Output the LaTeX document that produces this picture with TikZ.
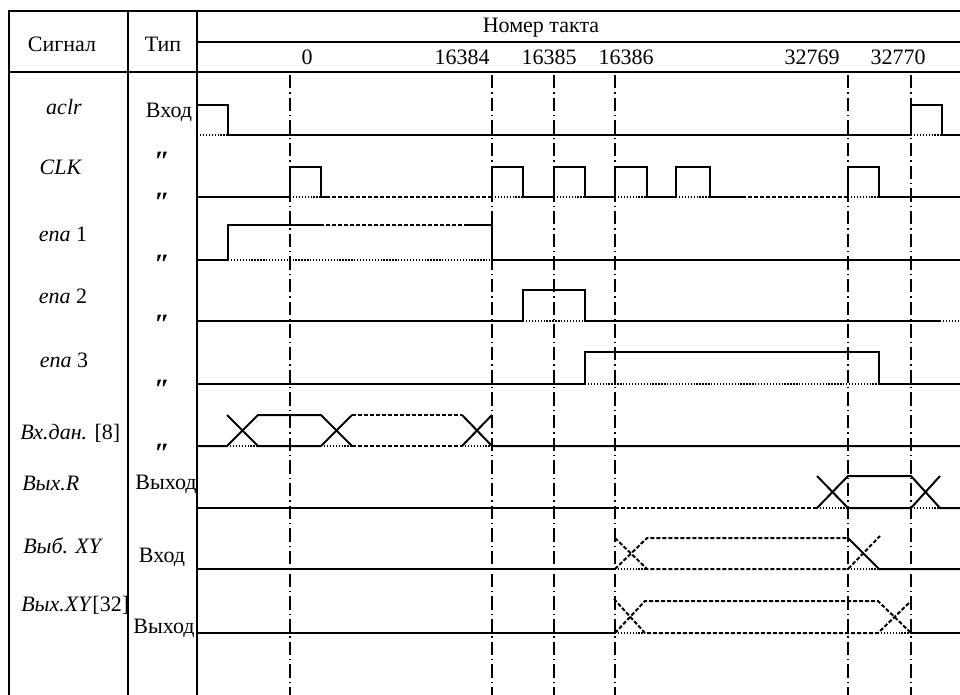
\documentclass[tikz,border=0pt]{standalone}
\usepackage{fontspec}
\setmainfont{Liberation Serif}
\usepackage{tikz}
\usetikzlibrary{calc}

\tikzset{
  frame/.style={line width=0.8pt},
  wave/.style={line width=1.5pt},
  lowdots/.style={line width=0.8pt, dash pattern=on 1pt off 1.2pt},
  busdash/.style={line width=1.5pt, dash pattern=on 3pt off 1.5pt},
  ticktime/.style={line width=0.8pt, dash pattern=on 10pt off 3pt on 1pt off 3pt}
}

\begin{document}
\begin{tikzpicture}[x=0.75pt,y=-0.75pt,inner sep=0pt,font=\fontsize{16.5}{19}\selectfont]
                    \useasboundingbox (0,0) rectangle (960,695);

                    \draw[frame] (9,695) -- (9,11) -- (960,11);
                    \draw[frame] (128,11) -- (128,695);
                    \draw[frame] (197,11) -- (197,695);
                    \draw[frame] (197,42) -- (960,42);
                    \draw[frame] (9,72) -- (960,72);

                    \node[anchor=base] (hsig) at (62,52) {Сигнал};
                    \node[anchor=base] (htype) at (163,52) {Тип};
                    \node[anchor=base] (hnum) at (541,33) {Номер такта};

                    \foreach \t/\x/\lx in {0/290/307, 16384/492/462, 16385/554/549, 16386/615/626, 32769/848/812, 32770/911/898} {
                        \node[anchor=base] (n\t) at (\lx,65) {\t};
                        \draw[ticktime] (\x,75) -- (\x,695);
                    }

                    \node[anchor=base] (sig-aclr) at (64,115) {\textit{aclr}};
                    \node[anchor=base] (sig-clk) at (61,175) {\textit{CLK}};
                    \node[anchor=base] (sig-ena1) at (63,242) {\textit{ena} 1};
                    \node[anchor=base] (sig-ena2) at (63,303) {\textit{ena} 2};
                    \node[anchor=base] (sig-ena3) at (64,367) {\textit{ena} 3};
                    \node[anchor=base west] (sig-din) at (20,439) {\textit{Вх.дан.} [8]};
                    \node[anchor=base west] (sig-outr) at (22,490) {\textit{Вых.R}};
                    \node[anchor=base west] (sig-selxy) at (23,553) {\textit{Выб. XY}};
                    \node[anchor=base west] (sig-outxy) at (21,611) {\textit{Вых.XY}[32]};

                    \node[anchor=base] (typ-aclr) at (169,118) {Вход};
                    \node[anchor=base] (typ-outr) at (166,489) {Выход};
                    \node[anchor=base] (typ-selxy) at (162,562) {Вход};
                    \node[anchor=base] (typ-outxy) at (164,633) {Выход};
                    \foreach \y [count=\i] in {171,212,274,333,398,462} {
                        \node[anchor=base] (ditto\i) at (162,\y) {\fontsize{21}{21}\selectfont\bfseries\itshape ″};
                    }

                    \draw[wave] (197,105) -- (228,105) -- (228,135) -- (911,135) -- (911,105) -- (942,105) -- (942,135) -- (960,135);
                    \draw[lowdots] (197,135) -- (228,135) (911,135) -- (942,135);

                    \draw[wave] (197,197) -- (290,197) -- (290,167) -- (321,167) -- (321,197) -- (326,197);
                    \draw[busdash] (326,197) -- (492,197);
                    \draw[wave] (492,197) -- (492,167) -- (523,167) -- (523,197) -- (554,197) -- (554,167) -- (585,167) -- (585,197)
                        -- (615,197) -- (615,167) -- (647,167) -- (647,197) -- (676,197) -- (676,167) -- (710,167) -- (710,197) -- (742,197);
                    \draw[busdash] (742,197) -- (848,197);
                    \draw[wave] (848,197) -- (848,167) -- (879,167) -- (879,197) -- (960,197);
                    \foreach \a/\b in {290/321, 492/523, 554/585, 615/647, 676/710, 848/879}
                        \draw[lowdots] (\a,197) -- (\b,197);

                    \draw[wave] (197,260) -- (228,260) -- (228,225) -- (320,225);
                    \draw[busdash] (320,225) -- (465,225);
                    \draw[wave] (465,225) -- (492,225) -- (492,260) -- (960,260);
                    \draw[lowdots] (228,260) -- (492,260);

                    \draw[wave] (197,321) -- (523,321) -- (523,290) -- (585,290) -- (585,321) -- (940,321);
                    \draw[lowdots] (523,321) -- (585,321) (940,321) -- (960,321);

                    \draw[wave] (197,384) -- (585,384) -- (585,352) -- (879,352) -- (879,384) -- (960,384);
                    \draw[lowdots] (585,384) -- (879,384);

                    \draw[wave] (197,446) -- (227,446) -- (258,415) -- (321,415) -- (352,446);
                    \draw[wave] (227,415) -- (258,446) -- (321,446) -- (352,415);
                    \draw[busdash] (352,415) -- (462,415) (352,446) -- (462,446);
                    \draw[wave] (462,415) -- (492,446) -- (960,446);
                    \draw[wave] (462,446) -- (492,415);
                    \foreach \a/\b in {227/258, 321/352, 462/492}
                        \draw[lowdots] (\a,446) -- (\b,446);

                    \draw[wave] (197,508) -- (615,508);
                    \draw[busdash] (615,508) -- (817,508);
                    \draw[wave] (817,508) -- (848,476) -- (911,476) -- (940,508) -- (960,508);
                    \draw[wave] (817,476) -- (848,508) -- (911,508) -- (940,476);
                    \draw[lowdots] (817,508) -- (848,508) (911,508) -- (940,508);

                    \draw[wave] (197,569) -- (615,569);
                    \draw[busdash] (615,538) -- (647,569) -- (848,569) -- (880,536);
                    \draw[busdash] (615,569) -- (647,538) -- (848,538);
                    \draw[wave] (848,538) -- (879,569) -- (960,569);
                    \draw[lowdots] (615,569) -- (647,569) (848,569) -- (879,569);

                    \draw[wave, line width=2pt] (197,633) -- (615,633);
                    \draw[busdash] (614,599) -- (645,633) -- (878,633) -- (911,601);
                    \draw[busdash] (615,633) -- (645,601) -- (878,601) -- (911,633);
                    \draw[wave, line width=2pt] (911,633) -- (960,633);
                    \draw[lowdots] (615,633) -- (645,633) (878,633) -- (911,633);
                \end{tikzpicture}
\end{document}
